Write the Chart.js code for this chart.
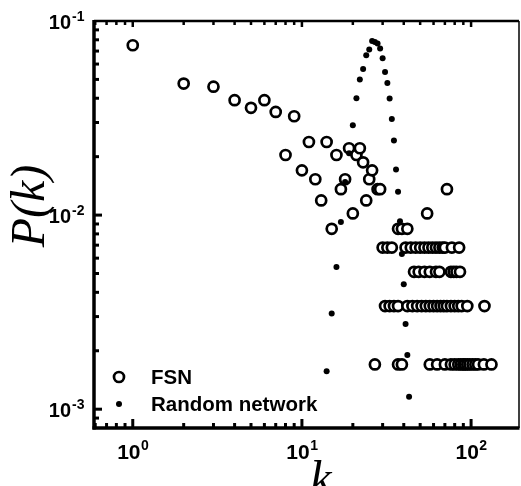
<!DOCTYPE html>
<html>
<head>
<meta charset="utf-8">
<script src="https://cdn.jsdelivr.net/npm/chart.js@4.4.1/dist/chart.umd.min.js"></script>
<style>
  html, body { margin: 0; padding: 0; background: #fff; }
  canvas { display: block; }
</style>
</head>
<body>
<canvas id="chart" width="521" height="486"></canvas>
<script>
// FSN degree distribution (open circles)
const fsnK = [
  1, 2, 3, 4, 5, 6, 7, 8, 9, 10, 11, 12, 13, 14, 15, 16, 17, 18, 19, 20,
  21, 22, 23, 24, 25, 26, 28, 29, 55, 72,
  37, 39, 42,
  30, 32, 34, 41, 44, 47, 50, 53, 56, 59, 62, 65, 68, 70, 77, 85,
  46, 49, 53, 57, 62, 65, 76, 79, 82, 86,
  31, 33, 35, 37, 42, 45, 48, 51, 54, 57, 60, 63, 66, 69, 72, 76, 80, 84, 88, 95, 120,
  27, 37, 39, 57, 63, 70, 76, 80, 84, 87, 90, 92, 95, 98, 102, 106, 110, 119, 132
];
const fsnP = [
  0.075, 0.0476, 0.0459, 0.0391, 0.0357, 0.0391, 0.034, 0.0204, 0.0323, 0.017,
  0.0238, 0.0153, 0.0119, 0.0238, 0.0085, 0.0204, 0.0136, 0.0153, 0.0221, 0.0102,
  0.0204, 0.0221, 0.0187, 0.0119, 0.0153, 0.017, 0.0136, 0.0136, 0.0102, 0.0136,
  0.0085, 0.0085, 0.0085,
  0.0068, 0.0068, 0.0068, 0.0068, 0.0068, 0.0068, 0.0068, 0.0068, 0.0068, 0.0068, 0.0068, 0.0068, 0.0068, 0.0068, 0.0068, 0.0068,
  0.0051, 0.0051, 0.0051, 0.0051, 0.0051, 0.0051, 0.0051, 0.0051, 0.0051, 0.0051,
  0.0034, 0.0034, 0.0034, 0.0034, 0.0034, 0.0034, 0.0034, 0.0034, 0.0034, 0.0034, 0.0034,
  0.0034, 0.0034, 0.0034, 0.0034, 0.0034, 0.0034, 0.0034, 0.0034, 0.0034, 0.0034,
  0.0017, 0.0017, 0.0017, 0.0017, 0.0017, 0.0017, 0.0017, 0.0017, 0.0017, 0.0017,
  0.0017, 0.0017, 0.0017, 0.0017, 0.0017, 0.0017, 0.0017, 0.0017, 0.0017
];

// Random network (small filled dots)
const randK = [14, 15, 16, 17, 18, 19, 20, 21, 22, 23, 24, 25, 26, 27, 28, 29,
  30, 31, 32, 33, 34, 35, 36, 37, 38, 39, 40, 41, 42, 43];
const randP = [0.00157, 0.00311, 0.0054, 0.0092, 0.0148, 0.0208, 0.029, 0.040,
  0.050, 0.0566, 0.0666, 0.0713, 0.0789, 0.078, 0.0765, 0.0721, 0.0643, 0.0546,
  0.0479, 0.0399, 0.0313, 0.0242, 0.0172, 0.0132, 0.0093, 0.0063, 0.0044,
  0.00275, 0.0019, 0.00116];

// labelled decades
const xTickValues = [1, 10, 100];
const xTickExp = ['0', '1', '2'];
const yTickValues = [0.001, 0.01, 0.1];
const yTickExp = ['-3', '-2', '-1'];

const SANS = '"Liberation Sans", Arial, sans-serif';
const SERIF = '"Liberation Serif", "Times New Roman", serif';

function toPoints(ks, ps) {
  return ks.map((k, i) => ({ x: k, y: ps[i] }));
}

// all 1..9 x 10^d values strictly inside the axis range
function logTicks(min, max) {
  const out = [];
  for (let d = Math.floor(Math.log10(min)); d <= Math.ceil(Math.log10(max)); d++) {
    for (let m = 1; m < 10; m++) {
      const v = m * Math.pow(10, d);
      if (v > min * 1.001 && v < max * 0.999) out.push({ v, major: m === 1 });
    }
  }
  return out;
}

function line(ctx, x1, y1, x2, y2, w) {
  ctx.lineWidth = w;
  ctx.beginPath();
  ctx.moveTo(x1, y1);
  ctx.lineTo(x2, y2);
  ctx.stroke();
}

// Origin-style frame: inward ticks, 10^n labels, titles and inset legend
const frame = {
  id: 'frame',
  afterDraw(chart) {
    const { ctx, chartArea: a } = chart;
    const xs = chart.scales.x, ys = chart.scales.y;
    ctx.save();
    ctx.strokeStyle = '#000';
    ctx.fillStyle = '#000';

    line(ctx, a.left, a.top - 1, a.left, a.bottom + 1.5, 3.5);
    line(ctx, a.left - 1.5, a.bottom, a.right + 0.5, a.bottom, 3.5);
    line(ctx, a.left, a.top, a.right, a.top, 2.5);
    line(ctx, a.right, a.top, a.right, a.bottom, 1.5);

    logTicks(xs.min, xs.max).forEach(t => {
      const px = xs.getPixelForValue(t.v);
      line(ctx, px, a.bottom, px, a.bottom - (t.major ? 9 : 5), 3);
      line(ctx, px, a.top, px, a.top + (t.major ? 6 : 4), 2.5);
    });
    logTicks(ys.min, ys.max).forEach(t => {
      const py = ys.getPixelForValue(t.v);
      line(ctx, a.left, py, a.left + (t.major ? 8 : 5), py, 3);
    });

    // tick labels "10" with raised exponent
    ctx.textBaseline = 'alphabetic';
    xTickValues.forEach((v, i) => {
      const px = xs.getPixelForValue(v);
      ctx.font = 'bold 21px ' + SANS;
      const w1 = ctx.measureText('10').width;
      ctx.font = 'bold 14px ' + SANS;
      const w2 = ctx.measureText(xTickExp[i]).width;
      const x0 = px - (w1 + w2) / 2;
      ctx.textAlign = 'left';
      ctx.font = 'bold 21px ' + SANS;
      ctx.fillText('10', x0, a.bottom + 31);
      ctx.font = 'bold 14px ' + SANS;
      ctx.fillText(xTickExp[i], x0 + w1 + 0.5, a.bottom + 22);
    });
    yTickValues.forEach((v, i) => {
      const py = ys.getPixelForValue(v);
      ctx.font = 'bold 20px ' + SANS;
      ctx.textAlign = 'right';
      ctx.fillText('10', 71, py + 8);
      ctx.font = 'bold 14px ' + SANS;
      ctx.textAlign = 'left';
      ctx.fillText(yTickExp[i], 72, py - 0.5);
    });

    // axis titles
    ctx.font = 'italic 48px ' + SERIF;
    ctx.textAlign = 'center';
    ctx.fillText('k', 321, 494);
    ctx.save();
    ctx.translate(44, 206);
    ctx.rotate(-Math.PI / 2);
    ctx.fillText('P(k)', 0, 0);
    ctx.restore();

    // legend inside the plot, bottom left
    const legendY = [377, 404];
    chart.data.datasets.forEach((ds, i) => {
      const ly = legendY[i];
      ctx.beginPath();
      ctx.arc(119, ly, ds.pointRadius, 0, Math.PI * 2);
      ctx.fillStyle = ds.pointBackgroundColor;
      ctx.fill();
      if (ds.pointBorderWidth > 0) {
        ctx.lineWidth = ds.pointBorderWidth;
        ctx.stroke();
      }
      ctx.fillStyle = '#000';
      ctx.font = 'bold 20.5px ' + SANS;
      ctx.textAlign = 'left';
      ctx.fillText(ds.label, 151, ly + 7);
    });
    ctx.restore();
  }
};

new Chart(document.getElementById('chart'), {
  type: 'scatter',
  data: {
    datasets: [
      {
        label: 'FSN',
        data: toPoints(fsnK, fsnP),
        pointStyle: 'circle',
        pointRadius: 5,
        pointBorderWidth: 2.7,
        pointBorderColor: '#000',
        pointBackgroundColor: '#fff',
        order: 2
      },
      {
        label: 'Random network',
        data: toPoints(randK, randP),
        pointStyle: 'circle',
        pointRadius: 3,
        pointBorderWidth: 0,
        pointBorderColor: '#000',
        pointBackgroundColor: '#000',
        order: 1
      }
    ]
  },
  options: {
    responsive: false,
    animation: false,
    devicePixelRatio: 1,
    events: [],
    layout: { autoPadding: false, padding: { left: 94, top: 21, right: 2, bottom: 58 } },
    scales: {
      x: { type: 'logarithmic', min: 0.59, max: 192, display: false },
      y: { type: 'logarithmic', min: 0.0008, max: 0.1, display: false }
    },
    plugins: {
      legend: { display: false },
      tooltip: { enabled: false }
    }
  },
  plugins: [frame]
});
</script>
</body>
</html>
